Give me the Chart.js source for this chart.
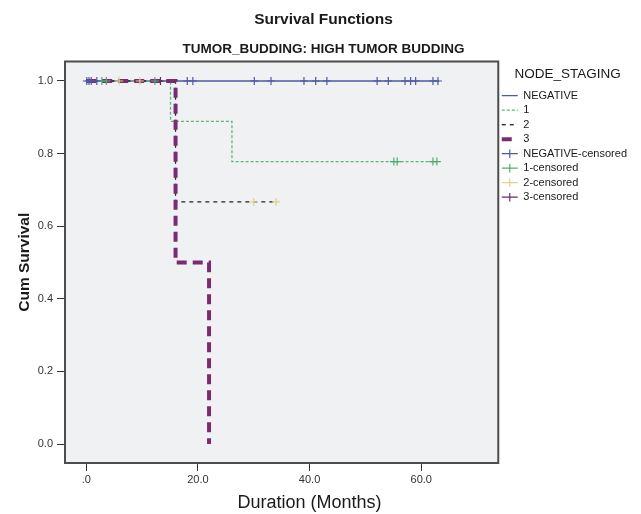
<!DOCTYPE html>
<html>
<head>
<meta charset="utf-8">
<script src="https://cdn.jsdelivr.net/npm/chart.js@4.4.1/dist/chart.umd.min.js"></script>
<style>
body{margin:0;background:#fff;}
#wrap{width:641px;height:514px;}
</style>
</head>
<body>
<div id="wrap"><canvas id="chart"></canvas></div>
<script>
// survival curves (time in months, cum survival)
const timeNeg=[0,63.2]
const survNeg=[1.0,1.0]
const time1=[0,15.1,26.1,62.9]
const surv1=[1.0,0.889,0.778,0.778]
const time2=[0,16.0,34.0]
const surv2=[1.0,0.667,0.667]
const time3=[0,16.0,22.0]
const surv3=[1.0,0.5,0.0]

// censored cases
const cenTimeNeg=[0.1,0.5,0.9,1.9,18.1,19.1,30.1,33.1,39.0,41.1,43.1,52.1,54.1,57.1,58.1,59.0,62.1,63.0]
const cenSurvNeg=[1,1,1,1,1,1,1,1,1,1,1,1,1,1,1,1,1,1]
const cenTime1=[2.8,3.6,12.3,55.1,55.7,62.1,62.8]
const cenSurv1=[1,1,1,0.778,0.778,0.778,0.778]
const cenTime2=[5.9,9.6,30.0,34.0]
const cenSurv2=[1,1,0.667,0.667]
const cenTime3=[13.3]
const cenSurv3=[1]

const seriesNames=['NEGATIVE','1','2','3','NEGATIVE-censored','1-censored','2-censored','3-censored']
const xTicks=[0,20,40,60]
const yTicks=[0,0.2,0.4,0.6,0.8,1.0]

const FONT="'Liberation Sans', Arial, sans-serif"

const pts=(t,s)=>t.map((v,i)=>({x:v,y:s[i]}))

const curve=(label,t,s,color,width,dash,order)=>({
    label:label,
    data:pts(t,s),
    borderColor:color,
    backgroundColor:color,
    borderWidth:width,
    borderDash:dash,
    stepped:'before',
    pointRadius:0,
    fill:false,
    order:order
})
const censored=(label,t,s,color)=>({
    label:label,
    data:pts(t,s),
    borderColor:color,
    backgroundColor:color,
    showLine:false,
    pointStyle:'cross',
    pointRadius:4,
    pointBorderWidth:1.2,
    order:0
})

const framePlugin={
    id:'frame',
    beforeDraw(chart){
        const a=chart.chartArea, c=chart.ctx
        c.save()
        c.fillStyle='#eff1f3'
        c.fillRect(a.left,a.top,a.right-a.left,a.bottom-a.top)
        c.restore()
    },
    afterDraw(chart){
        const a=chart.chartArea, c=chart.ctx
        c.save()
        c.strokeStyle='#4d4d4d'
        c.lineWidth=2
        c.strokeRect(a.left,a.top,a.right-a.left,a.bottom-a.top)
        // x axis title
        const xs=chart.scales.x
        c.fillStyle='#1a1a1a'
        c.font='18px '+FONT
        c.textAlign='center'
        c.textBaseline='middle'
        c.fillText('Duration (Months)',xs.getPixelForValue(40),503)
        c.restore()
    }
}

new Chart(document.getElementById('chart'),{
    type:'line',
    data:{
        datasets:[
            curve(seriesNames[0],timeNeg,survNeg,'#4e5aa3',1.3,[],4),
            curve(seriesNames[1],time1,surv1,'#5cb87a',1.3,[3,2],3),
            curve(seriesNames[2],time2,surv2,'#222222',1.3,[4,4],2),
            curve(seriesNames[3],time3,surv3,'#7a2b72',4,[10,6],1),
            censored(seriesNames[4],cenTimeNeg,cenSurvNeg,'#4e5aa3'),
            censored(seriesNames[5],cenTime1,cenSurv1,'#4fae6e'),
            censored(seriesNames[6],cenTime2,cenSurv2,'#ddd28c'),
            censored(seriesNames[7],cenTime3,cenSurv3,'#6b2a6a')
        ]
    },
    options:{
        responsive:true,
        maintainAspectRatio:false,
        animation:false,
        events:[],
        layout:{padding:{left:10,right:4,top:0,bottom:0}},
        scales:{
            x:{
                type:'linear',
                min:-3.8,
                max:73.8,
                afterBuildTicks:s=>{s.ticks=xTicks.map(v=>({value:v}))},
                afterFit:s=>{s.height=51},
                border:{display:false},
                grid:{display:true,drawOnChartArea:false,drawTicks:true,tickLength:8,color:'#333'},
                ticks:{
                    padding:2,
                    color:'#333',
                    font:{family:FONT,size:11},
                    callback:v=>v===0?'.0':v.toFixed(1)
                }
            },
            y:{
                min:-0.0523,
                max:1.0537,
                afterBuildTicks:s=>{s.ticks=yTicks.map(v=>({value:v}))},
                afterFit:s=>{s.width=55},
                border:{display:false},
                grid:{display:true,drawOnChartArea:false,drawTicks:true,tickLength:8,color:'#333'},
                ticks:{
                    padding:4,
                    color:'#333',
                    font:{family:FONT,size:11},
                    callback:v=>v.toFixed(1)
                },
                title:{
                    display:true,
                    text:'Cum Survival',
                    color:'#1a1a1a',
                    font:{family:FONT,size:15.5,weight:'bold'},
                    padding:{top:5.7,bottom:0}
                }
            }
        },
        plugins:{
            title:{
                display:true,
                text:'Survival Functions',
                color:'#1a1a1a',
                font:{family:FONT,size:15.5,weight:'bold'},
                padding:{top:10.7,bottom:4}
            },
            subtitle:{
                display:true,
                text:'TUMOR_BUDDING: HIGH TUMOR BUDDING',
                color:'#1a1a1a',
                font:{family:FONT,size:13.5,weight:'bold'},
                padding:{top:7.6,bottom:4.4}
            },
            legend:{
                position:'right',
                align:'start',
                fullSize:false,
                title:{
                    display:true,
                    text:'NODE_STAGING',
                    color:'#1a1a1a',
                    font:{family:FONT,size:13.5},
                    padding:{top:6,bottom:3}
                },
                labels:{
                    usePointStyle:true,
                    pointStyleWidth:16,
                    boxHeight:6,
                    padding:3.5,
                    color:'#1a1a1a',
                    font:{family:FONT,size:11},
                    generateLabels:chart=>chart.data.datasets.map((ds,i)=>({
                        text:ds.label,
                        datasetIndex:i,
                        hidden:false,
                        strokeStyle:ds.borderColor,
                        fillStyle:ds.borderColor,
                        lineWidth:ds.showLine===false?1.2:ds.borderWidth,
                        lineDash:ds.showLine===false?[]:ds.borderDash,
                        pointStyle:ds.showLine===false?'cross':'line',
                        fontColor:'#1a1a1a'
                    }))
                }
            },
            tooltip:{enabled:false}
        }
    },
    plugins:[framePlugin]
})
</script>
</body>
</html>
